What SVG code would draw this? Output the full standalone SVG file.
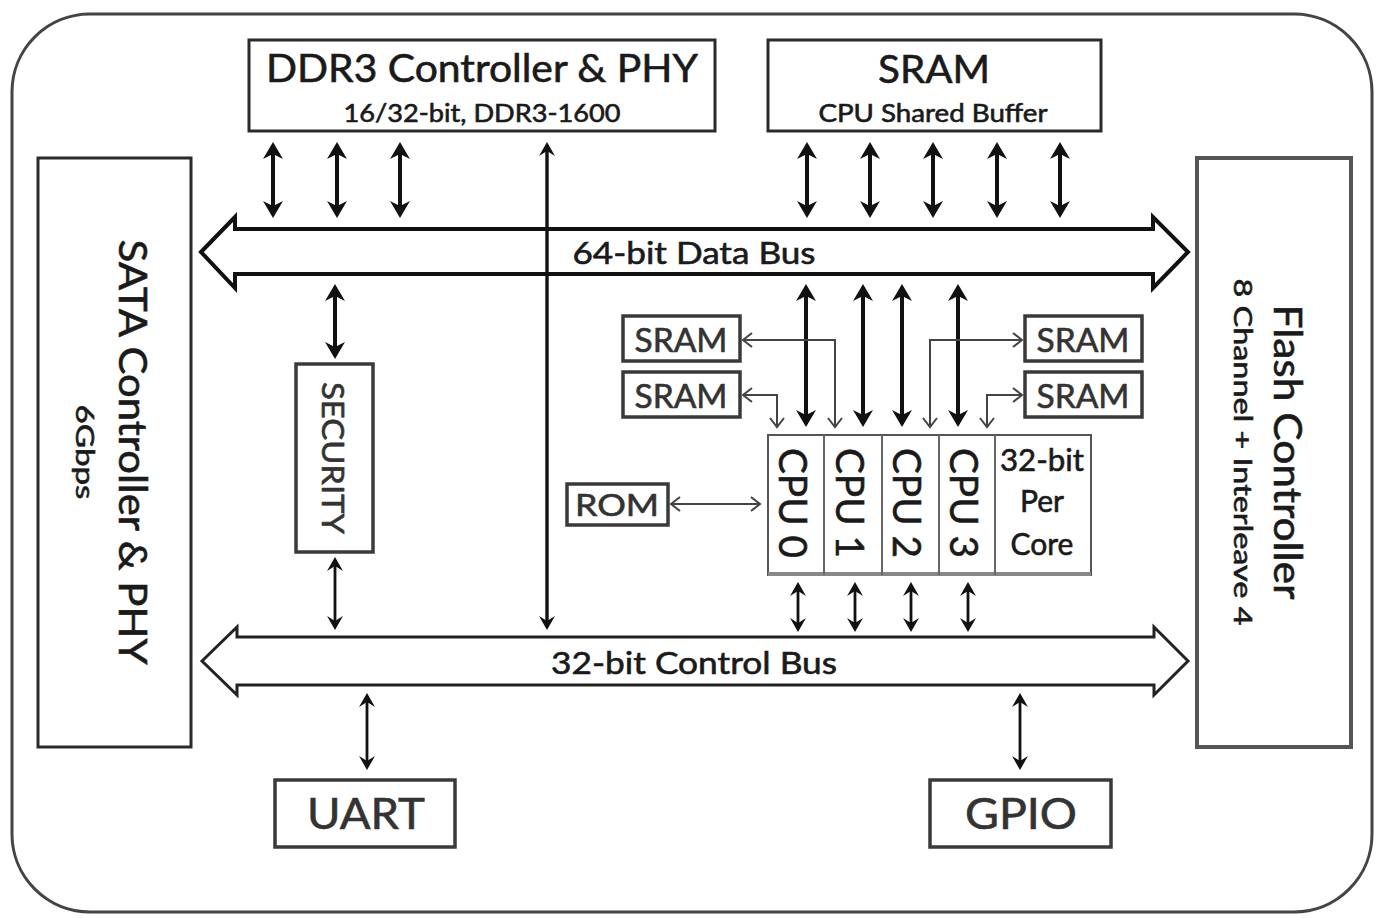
<svg xmlns="http://www.w3.org/2000/svg" width="1381" height="918" viewBox="0 0 1381 918">
<defs>
<style>
text{font-family:Lato,"Open Sans","Liberation Sans",sans-serif;fill:#1a1a1a;stroke:#1a1a1a;stroke-width:0.6}
.box{fill:#fff;stroke:#2a2a2a;stroke-width:3}
.gbox{fill:#fff;stroke:#555;stroke-width:4}
.sm{fill:#fff;stroke:#3a3a3a;stroke-width:3.5}
.thk{stroke:#111;stroke-width:4;fill:none;marker-start:url(#hT);marker-end:url(#hT)}
.med{stroke:#111;stroke-width:2.8;fill:none;marker-start:url(#hM);marker-end:url(#hM)}
.lng{stroke:#111;stroke-width:3.4;fill:none;marker-start:url(#hM);marker-end:url(#hM)}
.thin{stroke:#444;stroke-width:2;fill:none;marker-start:url(#hO);marker-end:url(#hO)}
.t40{font-size:38px}
.t26{font-size:25px}
.g{fill:#333;stroke:#333}
</style>
<marker id="hT" markerUnits="userSpaceOnUse" markerWidth="40" markerHeight="40" viewBox="-20 -20 40 40" refX="0" refY="0" orient="auto-start-reverse" overflow="visible"><path d="M3,0 L-14,-10 L-9,0 L-14,10 Z" fill="#111"/></marker>
<marker id="hM" markerUnits="userSpaceOnUse" markerWidth="40" markerHeight="40" viewBox="-20 -20 40 40" refX="0" refY="0" orient="auto-start-reverse" overflow="visible"><path d="M3,0 L-11,-8 L-6,0 L-11,8 Z" fill="#111"/></marker>
<marker id="hO" markerUnits="userSpaceOnUse" markerWidth="40" markerHeight="40" viewBox="-20 -20 40 40" refX="0" refY="0" orient="auto-start-reverse" overflow="visible"><path d="M-9,-7 L0,0 L-9,7" fill="none" stroke="#444" stroke-width="2"/></marker>
</defs>
<rect width="1381" height="918" fill="#fff"/>
<rect id="frame" x="12" y="14" width="1360" height="898" rx="78" fill="none" stroke="#444" stroke-width="3"/>

<g id="ddr3">
<rect class="box" x="249" y="40" width="466" height="91"/>
<text class="t40" x="482" y="82" text-anchor="middle" textLength="432" lengthAdjust="spacingAndGlyphs">DDR3 Controller &amp; PHY</text>
<text class="t26" x="482" y="122" text-anchor="middle" textLength="277" lengthAdjust="spacingAndGlyphs">16/32-bit, DDR3-1600</text>
</g>
<g id="sram-top">
<rect class="box" x="768" y="40" width="333" height="91"/>
<text class="t40" x="934" y="83" text-anchor="middle" textLength="112" lengthAdjust="spacingAndGlyphs">SRAM</text>
<text class="t26" x="933" y="122" text-anchor="middle" textLength="229" lengthAdjust="spacingAndGlyphs">CPU Shared Buffer</text>
</g>
<g id="sata">
<rect class="box" x="38" y="158" width="153" height="589"/>
<text class="t40" transform="translate(119,452) rotate(90)" text-anchor="middle" textLength="425" lengthAdjust="spacingAndGlyphs">SATA Controller &amp; PHY</text>
<text class="t26" transform="translate(76,452) rotate(90)" text-anchor="middle" textLength="95" lengthAdjust="spacingAndGlyphs">6Gbps</text>
</g>
<g id="flash">
<rect class="gbox" x="1197" y="158" width="154" height="589"/>
<text class="t40" transform="translate(1274,452) rotate(90)" text-anchor="middle" textLength="295" lengthAdjust="spacingAndGlyphs">Flash Controller</text>
<text class="t26" transform="translate(1234,452) rotate(90)" text-anchor="middle" textLength="347" lengthAdjust="spacingAndGlyphs">8 Channel + Interleave 4</text>
</g>
<g id="data-bus">
<path d="M201,252 L235,217 L235,229 L1153,229 L1153,217 L1188,252 L1153,288 L1153,274 L235,274 L235,288 Z" fill="#fff" stroke="#111" stroke-width="4" stroke-linejoin="miter"/>
<text x="694" y="264" font-size="31" text-anchor="middle" textLength="243" lengthAdjust="spacingAndGlyphs">64-bit Data Bus</text>
</g>
<g id="control-bus">
<path d="M202,661 L237,627 L237,637 L1154,637 L1154,627 L1188,661 L1154,695 L1154,685 L237,685 L237,695 Z" fill="#fff" stroke="#222" stroke-width="3"/>
<text x="694" y="674" font-size="31" text-anchor="middle" textLength="286" lengthAdjust="spacingAndGlyphs">32-bit Control Bus</text>
</g>
<g id="security">
<rect class="sm" x="296" y="364" width="77" height="188"/>
<text class="g" font-size="30" transform="translate(322,458) rotate(90)" text-anchor="middle" textLength="152" lengthAdjust="spacingAndGlyphs">SECURITY</text>
</g>
<g id="sram-l1"><rect class="sm" x="623" y="316" width="117" height="45"/><text class="g" font-size="33" x="681" y="352" text-anchor="middle" textLength="93" lengthAdjust="spacingAndGlyphs">SRAM</text></g>
<g id="sram-l2"><rect class="sm" x="623" y="372" width="117" height="45"/><text class="g" font-size="33" x="681" y="408" text-anchor="middle" textLength="93" lengthAdjust="spacingAndGlyphs">SRAM</text></g>
<g id="sram-r1"><rect class="sm" x="1025" y="316" width="117" height="45"/><text class="g" font-size="33" x="1083" y="352" text-anchor="middle" textLength="93" lengthAdjust="spacingAndGlyphs">SRAM</text></g>
<g id="sram-r2"><rect class="sm" x="1025" y="372" width="117" height="45"/><text class="g" font-size="33" x="1083" y="408" text-anchor="middle" textLength="93" lengthAdjust="spacingAndGlyphs">SRAM</text></g>
<g id="rom"><rect class="sm" x="567" y="484" width="101" height="41"/><text class="g" font-size="30" x="617" y="516" text-anchor="middle" textLength="84" lengthAdjust="spacingAndGlyphs">ROM</text></g>
<g id="cpu">
<rect x="768" y="435" width="323" height="140" fill="#fff" stroke="#555" stroke-width="2"/>
<line x1="768" y1="574" x2="1091" y2="574" stroke="#888" stroke-width="4"/>
<g stroke="#666" stroke-width="2"><line x1="824" y1="435" x2="824" y2="575"/><line x1="882" y1="435" x2="882" y2="575"/><line x1="939" y1="435" x2="939" y2="575"/><line x1="995" y1="435" x2="995" y2="575"/></g>
<text font-size="38" transform="translate(779,503) rotate(90)" text-anchor="middle" textLength="110" lengthAdjust="spacingAndGlyphs">CPU 0</text>
<text font-size="38" transform="translate(836,503) rotate(90)" text-anchor="middle" textLength="110" lengthAdjust="spacingAndGlyphs">CPU 1</text>
<text font-size="38" transform="translate(893,503) rotate(90)" text-anchor="middle" textLength="110" lengthAdjust="spacingAndGlyphs">CPU 2</text>
<text font-size="38" transform="translate(950,503) rotate(90)" text-anchor="middle" textLength="110" lengthAdjust="spacingAndGlyphs">CPU 3</text>
<text font-size="30" x="1042" y="471" text-anchor="middle" textLength="84" lengthAdjust="spacingAndGlyphs">32-bit</text>
<text font-size="30" x="1042" y="512" text-anchor="middle">Per</text>
<text font-size="30" x="1042" y="555" text-anchor="middle">Core</text>
</g>
<g id="uart"><rect class="sm" x="275" y="780" width="180" height="67"/><text class="g" font-size="42" x="366" y="829" text-anchor="middle" textLength="118" lengthAdjust="spacingAndGlyphs">UART</text></g>
<g id="gpio"><rect class="sm" x="930" y="780" width="181" height="67"/><text class="g" font-size="42" x="1021" y="829" text-anchor="middle" textLength="112" lengthAdjust="spacingAndGlyphs">GPIO</text></g>

<g id="connectors">
<path class="thk" d="M273,145 V215"/>
<path class="thk" d="M337,145 V215"/>
<path class="thk" d="M400,145 V215"/>
<path class="thk" d="M807,145 V215"/>
<path class="thk" d="M870,145 V215"/>
<path class="thk" d="M933,145 V215"/>
<path class="thk" d="M997,145 V215"/>
<path class="thk" d="M1060,145 V215"/>
<path class="lng" d="M547,145 V627"/>
<path class="thk" d="M335,287 V356"/>
<path class="med" d="M335,560 V627"/>
<path class="thk" d="M806,287 V424"/>
<path class="thk" d="M863,287 V424"/>
<path class="thk" d="M902,287 V424"/>
<path class="thk" d="M958,287 V424"/>
<path class="thin" d="M743,340 H835 V427"/>
<path class="thin" d="M743,395 H777 V427"/>
<path class="thin" d="M930,427 V340 H1022"/>
<path class="thin" d="M987,427 V395 H1022"/>
<path class="thin" d="M671,504 H760"/>
<path class="med" d="M798,585 V629"/>
<path class="med" d="M855,585 V629"/>
<path class="med" d="M911,585 V629"/>
<path class="med" d="M968,585 V629"/>
<path class="med" d="M367,696 V767"/>
<path class="med" d="M1020,696 V767"/>
</g>
</svg>
